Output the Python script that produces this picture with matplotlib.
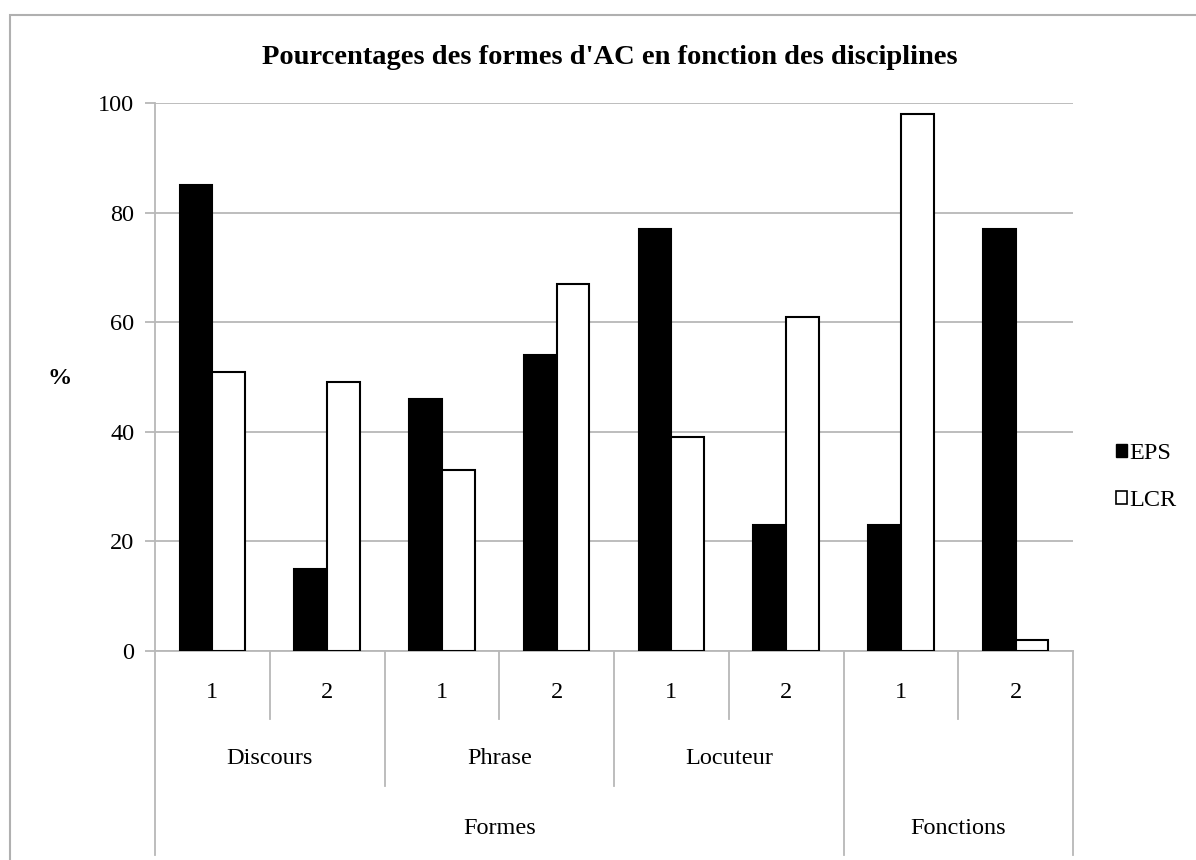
import numpy as np
import matplotlib
matplotlib.use('Agg')
import matplotlib.pyplot as plt
from matplotlib.patches import Patch, Rectangle
from matplotlib.lines import Line2D

plt.rcParams['font.family'] = ['Liberation Serif', 'DejaVu Serif']

# Data
sub_labels = ['1', '2', '1', '2', '1', '2', '1', '2']
group_labels = ['Discours', 'Phrase', 'Locuteur', '']
type_labels = ['Formes', 'Formes', 'Formes', 'Fonctions']
eps = [85, 15, 46, 54, 77, 23, 23, 77]
lcr = [51, 49, 33, 67, 39, 61, 98, 2]

W, H = 1196, 860
fig = plt.figure(figsize=(W / 100, H / 100), dpi=100)

# outer chart frame
fig.patches.append(Rectangle((10 / W, -0.1), 1.2, (H - 15) / H + 0.1,
                             transform=fig.transFigure, fill=False,
                             edgecolor='#b0b0b0', linewidth=1.5))

x0, x1, y0, y1 = 155, 1073, 651, 103
ax = fig.add_axes([x0 / W, (H - y0) / H, (x1 - x0) / W, (y0 - y1) / H])

grid_c = '#b8b8b8'
fs = 17.5
x = np.arange(len(sub_labels))
bw = 1 / 3.5
ax.bar(x - bw / 2, eps, bw, color='black', edgecolor='black', linewidth=1.5, label='EPS', zorder=3)
ax.bar(x + bw / 2, lcr, bw, color='white', edgecolor='black', linewidth=1.5, label='LCR', zorder=3)

ax.set_xlim(-0.5, len(x) - 0.5)
ax.set_ylim(0, 100)
ax.set_yticks(range(0, 101, 20))
ax.yaxis.grid(True, color=grid_c, linewidth=1.3, zorder=0)
ax.set_xticks([])
for s in ['top', 'right']:
    ax.spines[s].set_visible(False)
for s in ['left', 'bottom']:
    ax.spines[s].set_color(grid_c)
    ax.spines[s].set_linewidth(1.3)
ax.tick_params(axis='y', length=7, width=1.3, color=grid_c, labelsize=fs, pad=8)

# multi-level category axis
ph = y0 - y1
def yf(py):
    return (y0 - py) / ph

tr = ax.get_xaxis_transform()
lvl1, lvl2, lvl3 = yf(719), yf(786), yf(855)

for i, lab in enumerate(sub_labels):
    ax.text(i, yf(692), lab, transform=tr, ha='center', va='center', fontsize=fs)

# boundaries
n = len(sub_labels)
for b in range(n + 1):
    xb = b - 0.5
    g_prev = (b - 1) // 2 if b > 0 else None
    g_next = b // 2 if b < n else None
    if b == 0 or b == n:
        bottom = lvl3
    elif b % 2 == 1:
        bottom = lvl1
    elif type_labels[g_prev] != type_labels[g_next]:
        bottom = lvl3
    else:
        bottom = lvl2
    ax.add_line(Line2D([xb, xb], [0, bottom], transform=tr, color=grid_c,
                       linewidth=1.3, clip_on=False))

for g, lab in enumerate(group_labels):
    if lab:
        ax.text(2 * g + 0.5, yf(758), lab, transform=tr, ha='center', va='center', fontsize=fs)

types = []
for g, t in enumerate(type_labels):
    if types and types[-1][0] == t:
        types[-1][2] = 2 * g + 1
    else:
        types.append([t, 2 * g, 2 * g + 1])
for t, a, b in types:
    ax.text((a + b) / 2, yf(828), t, transform=tr, ha='center', va='center', fontsize=fs)

fig.text(610 / W, 1 - 57 / H, "Pourcentages des formes d'AC en fonction des disciplines",
         ha='center', va='center', fontsize=20.5, fontweight='bold')
fig.text(60 / W, 1 - 378 / H, '%', ha='center', va='center', fontsize=fs, fontweight='bold')

handles = [Patch(facecolor='black', edgecolor='black', label='EPS'),
           Patch(facecolor='white', edgecolor='black', linewidth=1.2, label='LCR')]
fig.legend(handles=handles, loc='center left', bbox_to_anchor=(1094 / W, 1 - 477 / H),
           frameon=False, fontsize=fs, handlelength=0.45, handleheight=0.45,
           handletextpad=0.12, labelspacing=1.05)

fig.savefig('out.png', dpi=100)
